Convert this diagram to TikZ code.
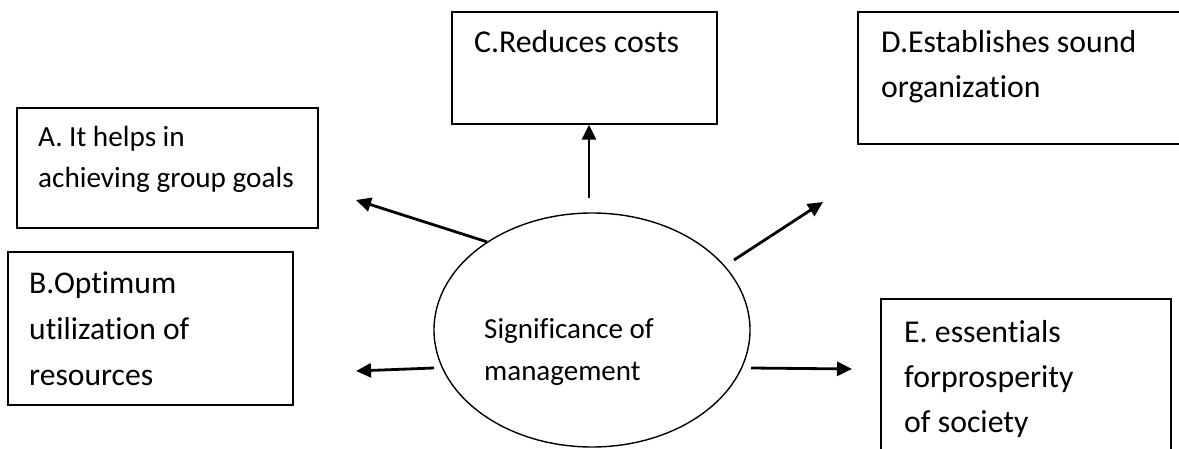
\documentclass[tikz,border=0pt]{standalone}
\usepackage{fontspec}
\setmainfont{Carlito}[Ligatures=NoCommon]
\usetikzlibrary{shapes.geometric,arrows.meta}
\tikzset{
  box/.style={draw,line width=1.4pt,inner sep=0pt},
  txt/.style={anchor=base west,inner sep=0pt,align=left},
  arr/.style={line width=2.8pt,-{Triangle[length=15pt,width=14pt]}},
}
\begin{document}
\begin{tikzpicture}[x=1pt,y=-1pt]
\clip (0,0) rectangle (1179,449);
\fill[white] (0,0) rectangle (1179,449);
% boxes
\node[box,minimum width=301pt,minimum height=120pt] (A) at (167.5,168) {};
\node[box,minimum width=285pt,minimum height=153pt] (B) at (150.5,328.5) {};
\node[box,minimum width=265pt,minimum height=112pt] (C) at (584.5,68) {};
\node[box,minimum width=330pt,minimum height=132pt] (D) at (1023,78) {};
\node[box,minimum width=290pt,minimum height=170pt] (E) at (1026,384) {};
\node[draw,ellipse,line width=1.4pt,minimum width=316pt,minimum height=234pt,inner sep=0pt] (M) at (592,330) {};
% texts (anchored at the baseline of the last line)
\node[txt,font=\fontsize{29.2}{41}\selectfont] (tA) at (38,188) {A. It helps in\\achieving group goals};
\node[txt,font=\fontsize{31.6}{46}\selectfont] (tB) at (29,385) {B.Optimum\\utilization of\\resources};
\node[txt,font=\fontsize{31.8}{45}\selectfont] (tC) at (474,53) {C.Reduces costs};
\node[txt,font=\fontsize{31.8}{45}\selectfont] (tD) at (881,98) {D.Establishes sound\\organization};
\node[txt,font=\fontsize{31.8}{45}\selectfont] (tE) at (904,432) {E. essentials\\forprosperity\\of society};
\node[txt,font=\fontsize{29}{42}\selectfont] (tM) at (484,380) {Significance of\\management};
% connector ends
\coordinate (cS) at (589,198);
\coordinate (aT) at (356,200);
\coordinate (dS) at (734,260);
\coordinate (dT) at (823,202);
\coordinate (bS) at (434,368);
\coordinate (bT) at (356,371);
\coordinate (eS) at (751,368);
\coordinate (eT) at (852,369);
% arrows
\draw[arr] (cS) -- (C.south -| cS);
\draw[arr] (M.140) -- (aT);
\draw[arr] (dS) -- (dT);
\draw[arr] (bS) -- (bT);
\draw[arr] (eS) -- (eT);
\end{tikzpicture}
\end{document}
